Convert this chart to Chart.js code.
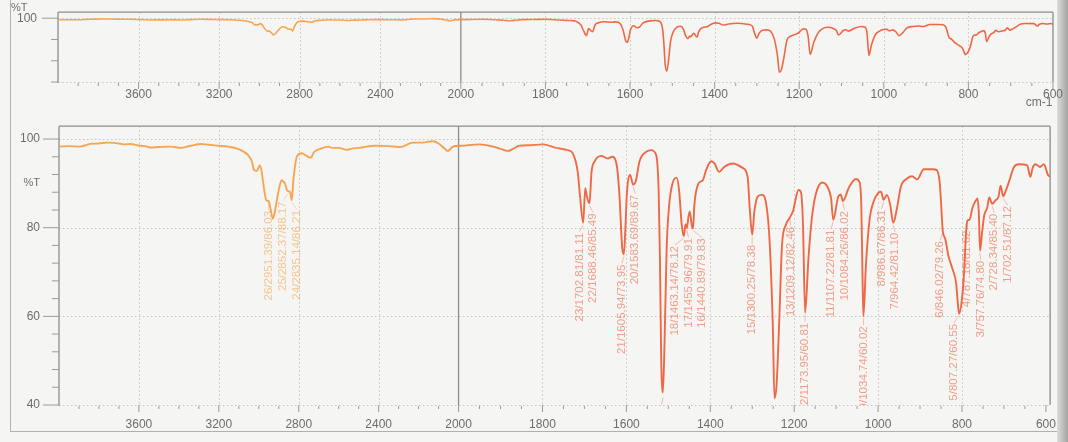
<!DOCTYPE html>
<html>
<head>
<meta charset="utf-8">
<script src="https://cdn.jsdelivr.net/npm/chart.js@4.4.0/dist/chart.umd.min.js"></script>
<style>
   html, body { margin: 0; padding: 0; background: #f5f5f3; }
   #wrap { position: relative; width: 1068px; height: 442px; overflow: hidden; }
   #outer { position: absolute; left: 10px; top: -2px; width: 1060px; height: 433px;
            border-left: 1px solid #b0b0ae; border-bottom: 1px solid #b0b0ae; }
   #edge { position: absolute; left: 1057px; top: 0; width: 11px; height: 442px;
           background: linear-gradient(to right, #dcdcda, #a4a4a2); }
   canvas { position: absolute; left: 0; }
</style>
</head>
<body>
<div id="wrap">
   <div id="outer"></div>
   <div id="edge"></div>
   <canvas id="chartTop" width="1068" height="114"></canvas>
   <canvas id="chartBottom" width="1068" height="328"></canvas>
</div>
<script>
/*=================================>> DATA  <<=================================*/

// spectrum (cm-1 / %T)
const wavenumbers = [
   4000, 3950, 3895, 3860, 3844, 3800, 3760, 3743, 3700, 3676, 3640, 3609, 3570, 3542, 3500,
   3441, 3390, 3340, 3289, 3250, 3200, 3155, 3104, 3070, 3054, 3035, 3024, 3010, 2995, 2985,
   2978, 2962, 2951, 2940, 2930, 2920, 2911, 2900, 2886, 2875, 2869, 2860, 2852, 2844, 2835,
   2827, 2820, 2810, 2785, 2770, 2751, 2738, 2726, 2692, 2650, 2634, 2600, 2558, 2530, 2499,
   2460, 2424, 2398, 2350, 2300, 2281, 2250, 2230, 2180, 2130, 2100, 2071, 2054, 2040, 2029,
   1994, 1950, 1918, 1900, 1883, 1870, 1855, 1830, 1799, 1767, 1740, 1728, 1716, 1710, 1703,
   1698, 1694, 1688, 1683, 1676, 1660, 1644, 1634, 1623, 1617, 1610, 1606, 1602, 1599, 1591,
   1584, 1577, 1569, 1553, 1541, 1529, 1523, 1520, 1517, 1513, 1509, 1504, 1498, 1490, 1480,
   1474, 1468, 1463, 1459, 1456, 1452, 1449, 1444, 1441, 1438, 1428, 1418, 1410, 1398, 1390,
   1379, 1367, 1347, 1323, 1311, 1306, 1300, 1295, 1287, 1277, 1267, 1259, 1251, 1247, 1242,
   1236, 1229, 1220, 1209, 1202, 1198, 1190, 1184, 1179, 1174, 1166, 1158, 1149, 1133, 1119,
   1112, 1107, 1095, 1089, 1084, 1069, 1053, 1045, 1040, 1037, 1035, 1029, 1020, 1011, 1001,
   993, 987, 979, 971, 964, 955, 946, 931, 919, 907, 891, 870, 860, 853, 849,
   846, 840, 832, 822, 814, 810, 807, 800, 795, 790, 787, 782, 775, 768, 763,
   760, 757, 752, 747, 740, 735, 728, 720, 713, 708, 702, 695, 688, 676, 664,
   645, 637, 632, 625, 614, 605, 595, 590
];
const transmittance = [
   98.3, 98.4, 98.3, 98.7, 98.9, 99.0, 99.2, 99.2, 99.0, 98.8, 98.9, 98.6, 98.4, 98.1, 98.2,
   98.3, 98.0, 98.5, 98.9, 98.7, 98.5, 98.3, 97.8, 97.0, 96.4, 95.0, 93.0, 92.8, 94.1, 92.5,
   90.1, 86.2, 86.0, 84.0, 82.0, 83.5, 85.8, 88.5, 90.7, 90.3, 90.0, 88.6, 88.2, 88.1, 86.2,
   90.7, 93.4, 96.0, 96.8, 96.5, 95.9, 95.8, 96.9, 97.8, 98.3, 98.0, 98.0, 97.6, 97.9, 98.0,
   98.3, 98.5, 98.5, 98.4, 98.2, 98.3, 98.9, 99.2, 99.2, 99.5, 99.0, 97.9, 97.3, 97.8, 98.3,
   98.5, 98.8, 98.3, 97.8, 97.3, 97.8, 98.5, 98.6, 98.8, 98.0, 97.5, 96.8, 92.6, 86.6, 81.1,
   88.9, 87.0, 85.5, 92.6, 94.9, 96.2, 95.6, 96.0, 94.1, 88.1, 75.5, 74.0, 80.6, 87.4, 91.9,
   89.7, 90.7, 94.9, 97.1, 97.5, 96.4, 88.1, 73.1, 50.5, 42.8, 54.2, 75.3, 85.1, 90.0, 91.3,
   88.1, 80.6, 78.1, 80.8, 79.9, 82.5, 83.6, 80.5, 79.8, 85.1, 90.0, 90.7, 93.0, 95.0, 94.5,
   92.6, 93.7, 94.5, 93.5, 91.5, 84.4, 78.4, 83.6, 87.0, 87.4, 85.5, 77.6, 58.0, 41.5, 44.5,
   58.0, 76.1, 80.6, 82.5, 84.0, 85.8, 88.5, 88.1, 80.6, 60.8, 73.1, 82.1, 87.4, 90.2, 88.9,
   86.6, 81.8, 87.0, 87.5, 86.0, 89.2, 91.0, 90.4, 85.1, 68.0, 60.0, 71.6, 82.1, 85.8, 87.7,
   88.1, 86.3, 87.4, 85.1, 81.1, 84.4, 89.2, 91.1, 91.6, 90.9, 93.2, 93.2, 93.0, 90.0, 84.0,
   79.3, 77.5, 73.5, 70.5, 67.5, 63.0, 60.6, 64.0, 70.0, 79.5, 81.6, 81.8, 84.5, 86.0, 86.6,
   83.5, 74.8, 79.1, 82.8, 84.5, 86.8, 85.4, 86.2, 87.0, 89.5, 87.1, 88.5, 90.4, 93.7, 94.3,
   94.1, 91.5, 93.4, 94.3, 93.7, 94.3, 91.9, 91.5
];

// peak table printed on the lower chart
const peakNo   = [1, 2, 3, 4, 5, 6, 7, 8, 9, 10, 11, 12, 13,
                  15, 16, 17, 18, 19, 20, 21, 22, 23, 24, 25, 26];
const peakWave = [702.51, 728.34, 757.76, 787.18, 807.27, 846.02, 964.42, 986.67, 1034.74, 1084.26, 1107.22, 1173.95, 1209.12,
                  1300.25, 1440.89, 1455.96, 1463.14, 1512.55, 1583.69, 1605.94, 1688.46, 1702.81, 2835.14, 2852.37, 2951.39];
const peakT    = [87.12, 85.40, 74.80, 81.62, 60.55, 79.26, 81.10, 86.31, 60.02, 86.02, 81.81, 60.81, 82.46,
                  78.38, 79.83, 79.91, 78.12, 42.10, 89.67, 73.95, 85.49, 81.11, 86.21, 88.17, 86.03];

// axis
const majorTicks = [3600, 3200, 2800, 2400, 2000, 1800, 1600, 1400, 1200, 1000, 800, 600];
const topYTicks = [100, 77, 54, 31];
const bottomYTicks = [40, 60, 80, 100];

/*=================================>> AXIS  <<=================================*/

// 4000-2000 is drawn at half the scale of 2000-600
const K = 2.1;
const toU = w => w >= 2000 ? 4000 - w : 2000 + (2000 - w) * K;
const toW = u => u <= 2000 ? 4000 - u : 2000 - (u - 2000) / K;

function specColor(w, a) {
   const t = Math.min(1, Math.max(0, (2150 - w) / 450));
   const c1 = [246, 166, 82], c2 = [238, 104, 70];
   const c = c1.map((v, i) => Math.round(v + (c2[i] - v) * t));
   return `rgba(${c[0]}, ${c[1]}, ${c[2]}, ${a})`;
}

function minorTicks() {
   const list = [];
   for (let w = 3900; w > 2000; w -= 100) list.push(w);
   for (let w = 1950; w >= 600; w -= 50) list.push(w);
   return list.filter(w => !majorTicks.includes(w));
}

// push crowded peak labels apart, keeping each group centred
function spread(xs, gap) {
   const g = [];
   xs.forEach(v => {
      g.push({ c: v, n: 1 });
      while (g.length > 1) {
         const b = g[g.length - 1], a = g[g.length - 2];
         const aEnd = a.c + (a.n - 1) / 2 * gap;
         const bStart = b.c - (b.n - 1) / 2 * gap;
         if (bStart - aEnd >= gap) break;
         const n = a.n + b.n;
         g.splice(g.length - 2, 2, { c: (a.c * a.n + b.c * b.n) / n, n: n });
      }
   });
   const out = [];
   g.forEach(q => { for (let i = 0; i < q.n; i++) out.push(q.c + (i - (q.n - 1) / 2) * gap); });
   return out;
}

function line(ctx, x1, y1, x2, y2) {
   ctx.beginPath();
   ctx.moveTo(x1, y1);
   ctx.lineTo(x2, y2);
   ctx.stroke();
}

const framePlugin = {
   id: 'frame',
   beforeDatasetsDraw(chart, args, o) {
      const { ctx, chartArea: a, scales: { x, y } } = chart;
      ctx.save();
      // dotted grid
      ctx.strokeStyle = '#c3c3c1';
      ctx.lineWidth = 1;
      ctx.setLineDash([1.5, 2.5]);
      o.gridY.forEach(v => {
         const py = Math.round(y.getPixelForValue(v)) + 0.5;
         line(ctx, a.left, py, a.right, py);
      });
      majorTicks.forEach(w => {
         if (w === 2000 || w === 600) return;
         const px = Math.round(x.getPixelForValue(toU(w))) + 0.5;
         line(ctx, px, a.top, px, a.bottom);
      });
      ctx.setLineDash([]);
      // frame
      ctx.strokeStyle = '#8c8c8a';
      ctx.lineWidth = 1.3;
      const p2000 = x.getPixelForValue(toU(2000));
      line(ctx, p2000, a.top, p2000, a.bottom);
      line(ctx, a.left, a.top, a.right, a.top);
      line(ctx, a.right, a.top, a.right, a.bottom);
      line(ctx, a.left, a.top, a.left, a.bottom + 1);
      // ticks
      ctx.lineWidth = 1;
      ctx.strokeStyle = '#9a9a98';
      majorTicks.forEach(w => {
         const px = x.getPixelForValue(toU(w));
         line(ctx, px, a.bottom, px, a.bottom + 7);
      });
      minorTicks().forEach(w => {
         const px = x.getPixelForValue(toU(w));
         line(ctx, px, a.bottom + 1, px, a.bottom + 4);
      });
      o.yMinor.forEach(v => {
         const py = y.getPixelForValue(v);
         line(ctx, a.left - 7, py, a.left, py);
      });
      o.yMajor.forEach(v => {
         const py = y.getPixelForValue(v);
         line(ctx, a.left - 16, py, a.left, py);
      });
      // axis titles
      ctx.fillStyle = '#707070';
      ctx.font = '11px "Liberation Sans", Arial, sans-serif';
      ctx.textBaseline = 'middle';
      ctx.textAlign = o.pctAlign;
      ctx.fillText('%T', o.pctX, o.pctValue ? y.getPixelForValue(o.pctValue) : o.pctY - chart.canvas.offsetTop);
      if (o.unit) {
         ctx.font = '12px "Liberation Sans", Arial, sans-serif';
         ctx.textAlign = 'center';
         ctx.fillText('cm-1', a.right - 14, a.bottom + 21);
      }
      ctx.restore();
   },
   afterDatasetsDraw(chart, args, o) {
      if (!o.peaks) return;
      const { ctx, chartArea: a, scales: { x, y } } = chart;
      const items = peakNo.map((n, i) => ({
         text: `${n}/${peakWave[i].toFixed(2)}/${peakT[i].toFixed(2)}`,
         w: peakWave[i],
         px: x.getPixelForValue(toU(peakWave[i])),
         py: y.getPixelForValue(peakT[i])
      })).sort((p, q) => p.px - q.px);
      const xs = spread(items.map(p => p.px), 13.5);
      ctx.save();
      ctx.beginPath();
      ctx.rect(a.left, a.top, a.right - a.left, a.bottom - a.top);
      ctx.clip();
      ctx.font = '11.5px "Liberation Sans", Arial, sans-serif';
      ctx.textAlign = 'right';
      ctx.textBaseline = 'middle';
      items.forEach((p, i) => {
         const top = p.py + 10;
         ctx.strokeStyle = specColor(p.w, 0.5);
         ctx.lineWidth = 0.8;
         line(ctx, p.px, p.py + 2, xs[i], top - 1);
         ctx.fillStyle = specColor(p.w, 0.62);
         ctx.save();
         ctx.translate(xs[i], top);
         ctx.rotate(-Math.PI / 2);
         ctx.fillText(p.text, 0, 0);
         ctx.restore();
      });
      ctx.restore();
   }
};

/*=================================>> CHARTS  <<=================================*/

const tickFont = { family: '"Liberation Sans", Arial, sans-serif', size: 12 };

function spectrumDataset(width) {
   return {
      data: wavenumbers.map((w, i) => ({ x: toU(w), y: transmittance[i] })),
      borderColor: '#ee6a47',
      borderWidth: width,
      pointRadius: 0,
      fill: false,
      cubicInterpolationMode: 'monotone',
      segment: {
         borderColor: c => specColor(toW(c.p0.parsed.x), 1)
      }
   };
}

function drawChart(canva, cfg) {
   return new Chart(canva, {
      type: 'line',
      data: { datasets: [spectrumDataset(cfg.lineWidth)] },
      options: {
         responsive: false,
         animation: false,
         devicePixelRatio: 1,
         layout: { padding: { left: 0, top: 0, right: cfg.right, bottom: 0 } },
         plugins: {
            legend: { display: false },
            tooltip: { enabled: false },
            frame: cfg.frame
         },
         scales: {
            x: {
               type: 'linear',
               min: 0,
               max: toU(cfg.lastW),
               grid: { display: false, drawTicks: false },
               border: { display: false },
               afterBuildTicks: s => { s.ticks = majorTicks.map(w => ({ value: toU(w) })); },
               afterFit: s => { s.height = cfg.xHeight; },
               ticks: {
                  autoSkip: false,
                  maxRotation: 0,
                  padding: cfg.xPad,
                  color: '#6c6c6a',
                  font: tickFont,
                  callback: v => String(Math.round(toW(v)))
               }
            },
            y: {
               min: cfg.yMin,
               max: cfg.yMax,
               grid: { display: false, drawTicks: false },
               border: { display: false },
               afterBuildTicks: s => { s.ticks = cfg.yLabels.map(v => ({ value: v })); },
               afterFit: s => { s.width = cfg.yWidth; },
               ticks: {
                  padding: cfg.yPad,
                  color: '#6c6c6a',
                  font: tickFont
               }
            }
         }
      },
      plugins: [framePlugin]
   });
}

// put the plot box at its page position: shift the canvas up and grow it by the same amount
function place(canva, cfg) {
   canva.style.top = cfg.pageTop + 'px';
   canva.height = cfg.height;
   let chart = drawChart(canva, cfg);
   const dy = Math.round(cfg.areaTop - (cfg.pageTop + chart.chartArea.top));
   if (dy !== 0) {
      chart.destroy();
      canva.style.top = (cfg.pageTop + dy) + 'px';
      canva.width = 1068;
      canva.height = cfg.height - dy;
      chart = drawChart(canva, cfg);
   }
   return chart;
}

(function main() {
   const bottomMinor = [];
   for (let v = 44; v < 100; v += 4) if (!bottomYTicks.includes(v)) bottomMinor.push(v);

   place(document.querySelector('#chartTop'), {
      pageTop: 0,
      height: 114,
      areaTop: 12,
      lineWidth: 1.6,
      right: 14,
      lastW: 600,
      xHeight: 32,
      xPad: 5,
      yMin: 31,
      yMax: 106.5,
      yLabels: [100],
      yWidth: 58,
      yPad: 21,
      frame: {
         gridY: [100, 31],
         yMajor: [100],
         yMinor: topYTicks.slice(1),
         pctAlign: 'left',
         pctX: 11,
         pctY: 8,
         unit: true,
         peaks: false
      }
   });

   place(document.querySelector('#chartBottom'), {
      pageTop: 114,
      height: 328,
      areaTop: 126,
      lineWidth: 1.9,
      right: 17,
      lastW: 590,
      xHeight: 37,
      xPad: 12,
      yMin: 40,
      yMax: 102.9,
      yLabels: bottomYTicks,
      yWidth: 59,
      yPad: 19,
      frame: {
         gridY: bottomYTicks,
         yMajor: bottomYTicks,
         yMinor: bottomMinor,
         pctAlign: 'right',
         pctX: 40,
         pctValue: 90,
         unit: false,
         peaks: true
      }
   });
})();
</script>
</body>
</html>
